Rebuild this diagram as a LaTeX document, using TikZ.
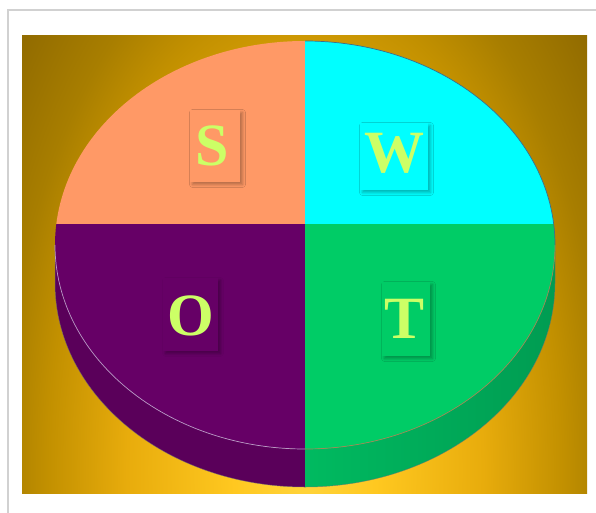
\documentclass[tikz,border=0pt]{standalone}
\usepackage{fontspec}
\setmainfont{Liberation Serif}
\usetikzlibrary{shadows.blur}
\definecolor{salmonq}{HTML}{FF9966}
\definecolor{cyanq}{HTML}{00FFFF}
\definecolor{purpleq}{HTML}{660066}
\definecolor{greenq}{HTML}{00CC66}
\definecolor{purpleside}{HTML}{5A005A}
\definecolor{greensideA}{HTML}{00BA60}
\definecolor{greensideB}{HTML}{009C52}
\definecolor{lettercol}{HTML}{CCFF66}
\definecolor{glowA}{HTML}{FFD43C}
\definecolor{glowAA}{HTML}{FFC820}
\definecolor{glowB}{HTML}{E8AC0C}
\definecolor{glowC}{HTML}{C29000}
\definecolor{glowD}{HTML}{A87E00}
\definecolor{glowE}{HTML}{926C00}
\definecolor{rimcyan}{HTML}{3C6E8C}
\definecolor{rimlilac}{HTML}{B898C8}
\definecolor{rimgreen}{HTML}{A08858}
\pgfdeclareradialshading{bgglow}{\pgfpoint{0bp}{0bp}}{color(0bp)=(glowA); color(4bp)=(glowAA); color(10bp)=(glowB); color(14.5bp)=(glowC); color(17bp)=(glowD); color(20.5bp)=(glowE); color(50bp)=(glowE)}
\tikzset{
  quadbox/.style={inner sep=0pt, blur shadow={shadow xshift=2.5pt, shadow yshift=-2.5pt, shadow blur radius=3pt, shadow opacity=30}},
  letter/.style={inner sep=0pt, text=lettercol, font=\fontsize{60}{60}\selectfont\bfseries},
  rimline/.style={line width=0.7pt}
}
\begin{document}
\begin{tikzpicture}[x=1pt,y=1pt]
\clip (0,0) rectangle (596,512);
\fill[white] (0,0) rectangle (596,512);
\draw[black!18, line width=1.2pt] (8,-10) rectangle (610,502);
% background
\begin{scope}
  \clip (22,19) rectangle (587,476);
  \shade[shading=bgglow] (305,42) ellipse (445 and 820);
\end{scope}
% side of the disk
\fill[purpleside] (55,267) arc[start angle=180,end angle=270,x radius=250,y radius=204]
  -- ++(0,-38) arc[start angle=270,end angle=180,x radius=250,y radius=204] -- cycle;
\shade[left color=greensideA, right color=greensideB] (305,63) arc[start angle=270,end angle=360,x radius=250,y radius=204]
  -- ++(0,-38) arc[start angle=0,end angle=-90,x radius=250,y radius=204] -- cycle;
\draw[black!55, line width=0.5pt, opacity=0.7] (55,267) -- (55,229) arc[start angle=180,end angle=360,x radius=250,y radius=204] -- (555,267);
% top face
\begin{scope}
  \clip (305,267) ellipse (250 and 204);
  \fill[salmonq] (40,288) rectangle (305,480);
  \fill[cyanq] (305,288) rectangle (570,480);
  \fill[purpleq] (40,288) rectangle (305,50);
  \fill[greenq] (305,288) rectangle (570,50);
\end{scope}
\draw[rimline, rimcyan] (305,471) arc[start angle=90,end angle=0,x radius=250,y radius=204];
\draw[rimline, rimlilac] (55,267) arc[start angle=180,end angle=270,x radius=250,y radius=204];
\draw[rimline, rimgreen] (305,63) arc[start angle=270,end angle=360,x radius=250,y radius=204];
% letter boxes
\node[quadbox, fill=salmonq, minimum width=50pt, minimum height=72pt] (sbox) at (215,366) {};
\node[quadbox, fill=cyanq, minimum width=68pt, minimum height=67pt] (wbox) at (394,355.5) {};
\node[quadbox, fill=purpleq, minimum width=55pt, minimum height=73pt] (obox) at (190.5,197.5) {};
\node[quadbox, fill=greenq, minimum width=48pt, minimum height=74pt] (tbox) at (406,193) {};
% letters
\node[letter] (S) at (212,366) {S};
\node[letter] (W) at (394,359) {W};
\node[letter] (O) at (191,196) {O};
\node[letter] (T) at (405,193) {T};
\end{tikzpicture}
\end{document}
